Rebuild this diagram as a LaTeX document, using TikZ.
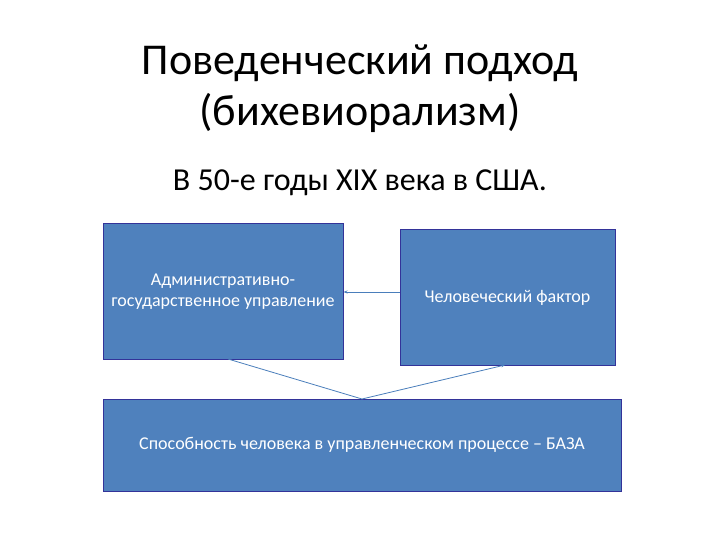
\documentclass[tikz,border=0pt]{standalone}
\usepackage{fontspec}
\setmainfont{Carlito}
\usetikzlibrary{arrows.meta}
\begin{document}
\begin{tikzpicture}[x=1pt,y=-1pt,
  box/.style={draw=blue!50!black!80, fill={rgb,255:red,79;green,129;blue,189}, line width=1pt, text=white, font=\fontsize{18}{21}\selectfont, align=center, inner sep=0pt},
  conn/.style={draw={rgb,255:red,74;green,126;blue,187}, line width=0.8pt}]
\useasboundingbox (0,0) rectangle (720,540);
\node (t1) at (360,63) {\fontsize{44}{48}\selectfont Поведенческий подход};
\node (t2) at (360,113) {\fontsize{44}{48}\selectfont (бихевиорализм)};
\node (st) at (360,183) {\fontsize{32}{36}\selectfont В 50-е годы XIX века в США.};
\node[box, minimum width=240, minimum height=135] (a) at (223,291.5) {Административно-\\государственное управление};
\node[box, minimum width=215, minimum height=135] (h) at (507.5,297.5) {Человеческий фактор};
\node[box, minimum width=518, minimum height=92] (b) at (362,445) {Способность человека в управленческом процессе -- БАЗА};
\draw[conn,-{Stealth[length=4pt]}] (h.west |- 0,292) -- (a.east |- 0,292);
\coordinate (m) at (362,399);
\draw[conn] (m) -- (228,359);
\draw[conn,-{Stealth[length=4pt]}] (m) -- (505,365);
\end{tikzpicture}
\end{document}
